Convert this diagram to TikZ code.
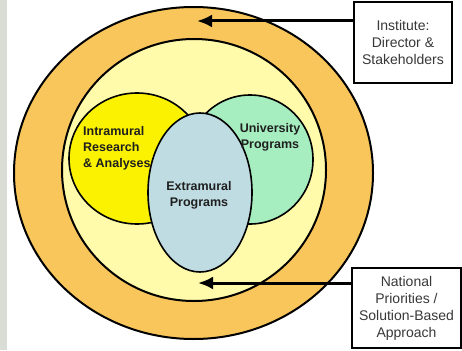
\documentclass[tikz,border=0pt]{standalone}
\usepackage{fontspec}
\setmainfont{Liberation Sans}
\usetikzlibrary{shapes.geometric,arrows.meta}

\definecolor{ringorange}{HTML}{F9C65C}
\definecolor{paleyellow}{HTML}{FFFBAA}
\definecolor{vennyellow}{HTML}{FAF200}
\definecolor{venngreen}{HTML}{A6EEC0}
\definecolor{vennblue}{HTML}{BFDCE2}
\definecolor{sidegrey}{HTML}{DADDD6}

\begin{document}
\begin{tikzpicture}[x=1pt,y=-1pt,
    blob/.style={ellipse,draw=black,line width=1.6pt,inner sep=0pt},
    venntext/.style={font=\bfseries\fontsize{12.5}{16}\selectfont,text=black!88,inner sep=0pt},
    textbox/.style={draw=black,line width=1.3pt,fill=white,align=center,inner sep=0pt,
                    font=\fontsize{14}{17}\selectfont,text=black!78},
    leader/.style={line width=3pt,-{Latex[length=15pt,width=13pt]}}]
    \useasboundingbox (0,0) rectangle (462,350);
    \fill[white] (0,0) rectangle (462,350);
    \fill[sidegrey] (0,0) rectangle (7,350);

    % rings
    \node[blob,line width=2pt,fill=ringorange,minimum width=359pt,minimum height=332pt] (institute) at (193.5,173) {};
    \node[blob,line width=2pt,fill=paleyellow,minimum width=264pt,minimum height=262pt] (national) at (194,170) {};

    % venn
    \node[blob,fill=vennyellow,minimum width=136pt,minimum height=131pt] (intramural) at (137,158.5) {};
    \node[blob,fill=venngreen,minimum width=126pt,minimum height=129pt] (university) at (250,159.5) {};
    \node[blob,fill=vennblue,minimum width=104pt,minimum height=159pt] (extramural) at (200,192.5) {};

    \node[venntext,anchor=west,align=left] (intramuraltext) at (83,148) {Intramural\\Research\\\& Analyses};
    \node[venntext,align=center] (universitytext) at (270,137.5) {University\\Programs};
    \node[venntext,align=center] (extramuraltext) at (199,195) {Extramural\\Programs};

    % side boxes
    \node[textbox,minimum width=98pt,minimum height=81pt] (instbox) at (403,42.5) {Institute:\\Director \&\\Stakeholders};
    \node[textbox,minimum width=109pt,minimum height=80pt] (natbox) at (406.5,308) {National\\Priorities /\\Solution-Based\\Approach};

    \coordinate (insttip) at (197,21);
    \coordinate (nattip) at (198,283);
    \draw[leader] (instbox.west |- insttip) -- (insttip);
    \draw[leader] (natbox.west |- nattip) -- (nattip);
\end{tikzpicture}
\end{document}
